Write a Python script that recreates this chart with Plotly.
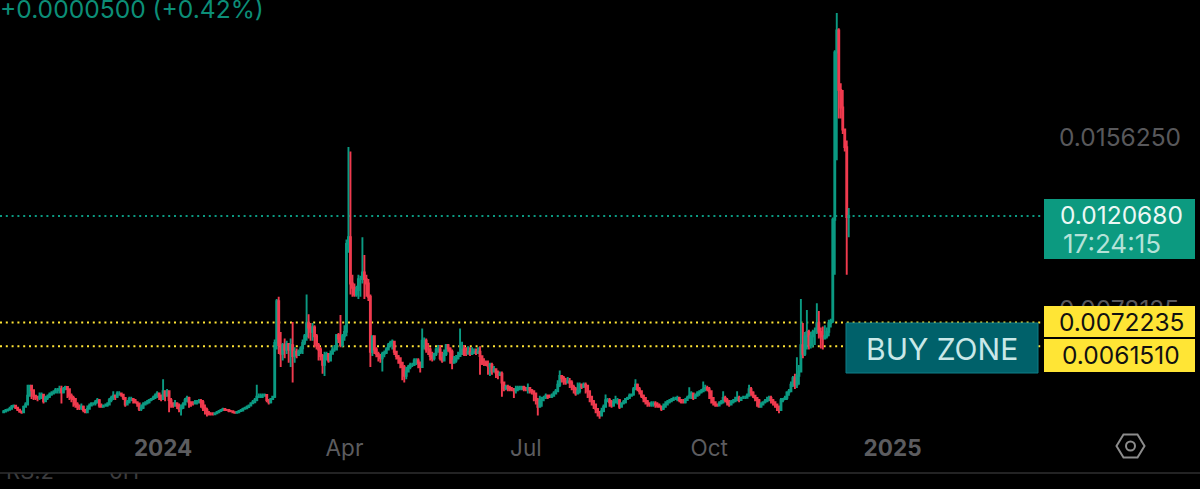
import pandas as pd
import plotly.graph_objects as go

# prices below are in units of 0.0001
first_open = 31.5
closes = [
    31.8,32.3,32.6,33.0,34.0,34.5,33.5,32.6,31.8,31.4,
    33.9,35,39,43.5,41.5,39,38,38,38.5,39.5,
    36.5,38,38.5,39.5,40,40.5,41.5,41.5,42,40.5,
    42,43,42,39,38,37.5,35,34,33.5,34,
    32.5,31.5,33,34.5,35.5,35.5,36,37,34.5,34,
    34.5,34.5,35,37,38,39,38.5,40,40,39.5,
    38,35,36,37.5,37.5,37,36,35.5,33,33.5,
    35,35.5,36,37,37.5,38,39,40,39,37.5,
    41,39,41,37,35.5,34.5,35.5,34.5,33,33.5,
    35,37,38,36,35.5,35.5,36,36,36.5,36,
    33.5,32.5,31,30.5,30.5,30.5,31,31.5,32,32.5,
    33,32.5,32.5,32,32,31.5,31.2,31.5,32,32.3,
    33,33.3,33.8,34.5,35.5,36,37,38.5,38.5,39,
    39,39.3,37,36,37.5,38.5,63,82,62,58,
    62,60,62.5,60,62,57,59,57.5,59,60.5,
    63,66,72,70,68,70,66,62,60,57,
    53,57,58,55,58,60,60,66.5,65,62,
    66,68,108,111,90,88,85,87,92,92,
    95,92,90,84,59,66,60,58,57,56,
    58,58.5,60,62,63,63.5,59,57,56,54,
    52,48,50,52,53,53,55,55,54,52,
    64,64,60,60,57,56,58,60,60,56,
    55,58,62,60.5,59,54,55,56,57,58,
    60,58,58,59,58,58.5,59,58.5,59,57,
    54,54,53,52.5,53,50,51,49.5,48.5,49,
    45,42.5,43,42.5,42,42,41.5,42,42.5,42.5,
    43,42,42,42.5,41.5,41,40,37,34,37,
    38,38,39,38.5,38.5,39,40,41,44,48,
    47,45.5,45,45.5,45,43,42,40,41,44,
    43,44,43.5,41,38.5,36.5,35,33,31.5,30,
    32,34,37,37,36,34.5,36,37,37,34,
    35.5,36,37.5,38,39,39.5,42,44,42,41,
    39,38,36.5,35.5,35,35.5,35.5,35,34.5,34,
    33,34,35,36,36.5,37,37.5,37.5,38,37,
    36,36,37,38,39,40,38,39,40,40.5,
    41,42,42.5,42,41,38,36,35,34.5,35.5,
    36,38,37,36,35,36,36.5,37,38,37,
    38,38,38,39,42,40.5,39,38,37,34,
    35,36,36.5,37,38,37,36,35,34,32.5,
    37,37.5,38,40.5,41,44,47,44,48,50,
    62,58,66,68,62,66,68,68,72,68,
    66,65,66,68,72,73,119,195,205,178,
    170,160,152,120.2,120.68,
]
highs = [
    32.5,33,33.2,34,34.8,35,34.5,33.5,32.5,32,
    34.5,36,44,44,43,40.5,39,39,40.5,40.5,
    39,39,39.5,40.5,41,41.5,42.5,42.5,43.5,43.5,
    43,43.5,43,41,40,39,37,36,35,35.5,
    34.5,33,34.5,35.5,36,36,37,38,37.5,35.5,
    35,35.5,36,38,39,41,39.5,41,41,40.5,
    39.5,38,37,38.5,38.5,38,37.5,36.5,35.5,35,
    36,36.5,37,37.5,38,39,40,41,40.5,39.5,
    46.5,41.5,42,41.5,38,36,37,36,35.5,35,
    36,38,39,38.5,36.5,36.5,37,37,37.5,37.5,
    37,35,33.5,32,31.5,31.5,31.5,32,32.5,33,
    33.5,33,33,32.5,32.5,32,31.7,32,32.5,33,
    33.5,34,34.5,35,36,37,38,44,40,40,
    40,40,39.5,37.5,38,39,64.5,83,84,68,
    63,65,64,63,65,72.5,61,60.5,60,61.5,
    64.5,67,85,76,72,72,71,67,63,61,
    58,59,59,58,59.5,61.5,62,67,67.5,75.7,
    67,71,110,152,150,94,90,89,94,93.5,
    111,103,94,92,85,66.5,66,61,59,58,
    59,59.5,61,63,64,64.5,63.5,59,57.5,56,
    53,53,52,53,54,54,56,56,56,54.5,
    69.5,65.5,65,63,61,59,58.5,61,62,62,
    59,60,62.5,62.5,61,60,57,57.5,59,69.5,
    63.5,62,61,61.5,61,61,60.5,60.5,61,61.5,
    56,56,55,55,54,54,52.5,51.5,50.5,50,
    50,44,44,44,43.5,43,42.5,43.5,43.5,43.5,
    43.5,43.5,43,44.5,43,42,41.5,40.5,38,39,
    38.5,39,40,39.5,39.5,40,41,42,46,50.5,
    48,48,47,47.5,47,46,44,43,45,45,
    44.5,45,45,44,41.5,39,37,35.5,33,32,
    33.5,35,39.5,38,38,37,37.5,39,38,37.5,
    36,37,38,38.5,40,40,43,46.5,44.5,43,
    41,39.5,38,37,36,36.5,36.5,36.5,36,35.5,
    34.5,35.5,36.5,37,37.5,38,38.5,38.5,39,38.5,
    37.5,37.5,38,39,42.8,41,40,40,41,41.5,
    42,45.5,44,43.5,43,41.5,38,36.5,35.5,36.5,
    37,41,39,38,37,37,37.5,38.5,41,39,
    38.5,39,39,40,44,43,41,39,38,37.5,
    36,36.5,37.5,38.5,39,39,37.5,36.5,35.5,34.5,
    38,38,39,41,42,45.5,48,49,56.5,53,
    83,72,68,78,69,68,69,70,81,77.5,
    70,70.5,71,70,73.5,74,120,196,213,206,
    181,178,159,155,124.3,
]
lows = [
    31,31.5,32,32.5,33,33.5,33,32,31.2,30.8,
    31.2,33.5,34.5,38.5,37.5,37,37,36.5,37,37.5,
    35.5,36,37,38,39,39.5,40,40,40,35.5,
    40,41.5,38,37,36,34,33.5,32.5,32.5,32.5,
    31.5,31,31.5,33,34.5,34.5,34.5,35.5,33.5,33.5,
    33.5,34,34,34.5,36,37,37,38,39,38.5,
    37,34,34.5,35.5,36.5,35.5,35.5,34,32,32,
    33,34.5,35,35.5,36.5,37,37.5,38,37,36.5,
    37.5,36.5,38.5,31.5,33.5,33.5,34,33,31.5,30,
    33,34.5,36,33.5,34,34.5,35,35,35.5,33.5,
    32,30.5,29.5,30,30,30,30.5,31,31.5,32,
    32.3,32,32,31.5,31.5,31,30.8,31,31.5,31.8,
    32.5,32.8,33,33.8,34.5,35.5,36,36.5,38,38,
    38,38.5,36,35,35.5,37,38,60,58,52,
    55,56,58,54,52,45,54,56,57,58,
    58,62,64,65,64,64,61,60,55,55,
    49,48,55,54,54.5,58,59,60,63,61,
    61,64,66,104,85,84,84,84,83,84,
    90,83,84,82,52,57,58,56.5,54.5,54,
    50,56.5,58,59.5,61,60,57.5,55.5,53.5,51.5,
    46,45,46.5,50,51,52,52.5,53,51.5,49.5,
    55,60,58.5,57.5,55,54.5,55,57,58.5,55,
    54,54.5,57,59,53.5,51,54,54,55.5,57,
    57.5,57,57,58,57,57.5,58,57.5,58,48.5,
    53,52.5,52.5,48.5,48,48.5,49.5,47,46.5,48,
    38.5,41,41.5,41,41,41,38,40,41,41.5,
    41.5,41,41,40,40,39.5,36.5,35,30,34,
    34,36.5,37.5,37.5,38,38,39,40,41,43,
    45,44,44,44.5,42.5,41.5,40,39,39.5,40,
    42,42.5,40,38,36,34.5,33,31,29.5,28.5,
    30,31.5,33.5,36,34,33.5,34,35.5,35,33,
    34,35,35.5,37,37.5,38.5,39,41.5,41,39.5,
    38,36,35,34,34,34,34,33.5,33.5,33.5,
    32,32.5,34,35,35.5,36.5,37,37,36.5,36,
    35.5,35.5,35.5,37,38,37.5,37,37.5,38.5,39,
    40,41,41,41,37.5,35.5,34.5,34,34,34.5,
    35,35.5,36,34.5,34,34.5,35.5,36,36.5,36,
    37,37.5,37.5,38,38.5,39,38,36.5,34,33.5,
    34,34.5,35.5,36,36.5,35.5,34.5,33.5,32,31,
    32,36,37,37,39,41,43,42,42.5,44,
    50,56,57,60,60,60.5,61,62,67,65,
    60.5,60,65,65,66,70,72,94,146,165,
    165,158,150,94,111,
]
dates = pd.date_range("2023-10-13", periods=len(closes), freq="D")

last_price = 0.0120680
zone_top = 0.0072235
zone_bottom = 0.0061510
price_ticks = [0.0156250, 0.0078125]
date_ticks = ["2024-01-01", "2024-04-01", "2024-07-01", "2024-10-01", "2025-01-01"]
date_labels = ["<b>2024</b>", "Apr", "Jul", "Oct", "<b>2025</b>"]

GREEN = "#0b9a82"
RED = "#f03a4e"
YELLOW = "#ffe535"
FONT = "Inter"
W, H, PLOT_W = 1200, 489, 1058


def px(x):
    return x / PLOT_W


def py(y):
    return 1 - y / H


def label(x, y, text, color, size=24.5, anchor="center", **kw):
    return dict(x=px(x), y=py(y), xref="paper", yref="paper", text=text, showarrow=False,
                xanchor=anchor, yanchor="middle", font=dict(family=FONT, size=size, color=color), **kw)


def box(x0, y0, x1, y1, color, line=None):
    return dict(type="rect", xref="paper", yref="paper", x0=px(x0), x1=px(x1), y0=py(y0), y1=py(y1),
                fillcolor=color, line=dict(color=line or color, width=1 if line else 0), layer="above")


def hline(value, color):
    return dict(type="line", xref="paper", yref="y", x0=0, x1=px(1044), y0=value, y1=value,
                line=dict(color=color, width=2, dash="2px,3.8px"), layer="below")


fig = go.Figure()
fig.add_trace(go.Candlestick(
    x=dates,
    open=[v / 1e4 for v in [first_open] + closes[:-1]],
    high=[v / 1e4 for v in highs],
    low=[v / 1e4 for v in lows],
    close=[v / 1e4 for v in closes],
    increasing=dict(line=dict(color=GREEN, width=1.9), fillcolor=GREEN),
    decreasing=dict(line=dict(color=RED, width=1.9), fillcolor=RED),
    whiskerwidth=0, showlegend=False, hoverinfo="skip"))
# clipped legend row of the next pane, only its lower part shows under the divider
fig.add_trace(go.Scatter(
    x=[30, 124], y=[1, 1], text=["RS.2", "0H"], mode="text", xaxis="x2", yaxis="y2",
    textfont=dict(family=FONT, size=22, color="#3c3c3e"), cliponaxis=True,
    showlegend=False, hoverinfo="skip"))

hex_path = "M {} {} L {} {} L {} {} L {} {} L {} {} L {} {} Z".format(
    px(1116.5), py(446), px(1123.5), py(434.5), px(1137.5), py(434.5),
    px(1144.5), py(446), px(1137.5), py(457.5), px(1123.5), py(457.5))

fig.update_layout(
    width=W, height=H,
    paper_bgcolor="#000000", plot_bgcolor="#000000",
    margin=dict(l=0, r=W - PLOT_W, t=0, b=0),
    showlegend=False,
    xaxis=dict(type="date", domain=[0, 1], range=["2023-10-11 04:00", "2025-03-25"],
               rangeslider=dict(visible=False), showgrid=False, zeroline=False, showline=False,
               tickmode="array", tickvals=date_ticks, ticktext=date_labels, ticks="",
               tickfont=dict(family=FONT, size=22.5, color="#5c5c5f"), anchor="y"),
    yaxis=dict(domain=[57 / H, 1], range=[0.00225, 0.021886], side="right", showgrid=False,
               zeroline=False, showline=False, tickmode="array", tickvals=price_ticks,
               ticktext=["%.7f" % v for v in price_ticks], ticks="", ticklen=0,
               tickfont=dict(family=FONT, size=24.5, color="#58585b"), anchor="x"),
    xaxis2=dict(domain=[0, 1], range=[0, PLOT_W], visible=False, anchor="y2"),
    yaxis2=dict(domain=[0, 16 / H], range=[0, 1], visible=False, anchor="x2"),
    shapes=[
        hline(last_price, GREEN),
        hline(zone_top, YELLOW),
        hline(zone_bottom, YELLOW),
        box(846, 323, 1038, 373, "#00616a", "#0f7f88"),
        box(1044, 199, 1195, 259, "#0c9a80"),
        box(1044, 306, 1195, 337, YELLOW),
        box(1044, 339, 1195, 372, YELLOW),
        dict(type="line", xref="paper", yref="paper", x0=0, x1=W / PLOT_W, y0=py(473), y1=py(473),
             line=dict(color="#2f2f31", width=1.5)),
        dict(type="path", xref="paper", yref="paper", path=hex_path, line=dict(color="#8c8c8c", width=2)),
        dict(type="circle", xref="paper", yref="paper", x0=px(1126), x1=px(1135), y0=py(441.5), y1=py(450.5),
             line=dict(color="#8c8c8c", width=2)),
    ],
    annotations=[
        label(-2, 9, "+0.0000500 (+0.42%)", "#0c8e77", size=24.6, anchor="left"),
        label(942, 349, "BUY ZONE", "#c9e8e8", size=30),
        label(1121, 215, "%.7f" % last_price, "#ecf8f5"),
        label(1061, 243, "17:24:15", "#b5e2d8", size=26, anchor="left"),
        label(1121, 322, "%.7f" % zone_top, "#111111"),
        label(1121, 355, "%.7f" % zone_bottom, "#111111"),
    ],
)

# the page's default body margin would shift the fixed-size chart
fig.write_html("out.html", config=dict(displayModeBar=False),
               post_script="document.body.style.margin='0';document.documentElement.style.overflow='hidden';")
